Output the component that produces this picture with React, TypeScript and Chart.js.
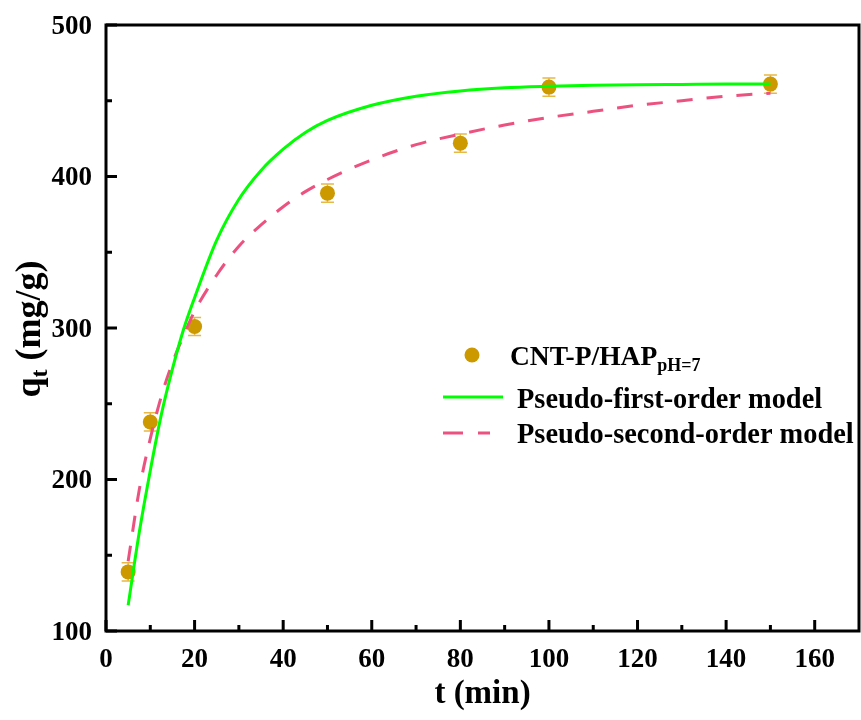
import React, { useEffect, useRef } from "react";
import { Chart, registerables } from "chart.js";
Chart.register(...registerables);

// Experimental data
const expT = [5, 10, 20, 50, 80, 100, 150];
const expQ = [139, 238, 301, 389, 422, 459, 461];
const expErr = [6, 6, 6, 6, 6, 6, 6];

// Model curves
const fitT = [5, 7.5, 10, 12.5, 15, 17.5, 20, 25, 30, 35, 40, 45, 50, 60, 70, 80, 90, 100, 110, 120, 130, 140, 150];
const pfoQ = [117, 165, 206, 243, 273, 299, 320, 358, 385, 404, 418, 429, 437, 447, 453, 456.5, 458.5, 459.5, 460.2, 460.6, 460.8, 461, 461];
const psoQ = [146, 193, 227, 255, 277, 295, 311, 335, 354, 368, 380, 390, 398, 411, 421, 428, 434, 439, 443, 447, 450, 453, 455];

const xMajor = [0, 20, 40, 60, 80, 100, 120, 140, 160];
const xMinor = [10, 30, 50, 70, 90, 110, 130, 150];
const yMajor = [100, 200, 300, 400, 500];
const yMinor = [150, 250, 350, 450];

const legendLabels = ["CNT-P/HAP", "pH=7", "Pseudo-first-order model", "Pseudo-second-order model"];
const yTitleMain = "q";
const yTitleSub = "t";
const yTitleRest = " (mg/g)";
const xTitle = "t (min)";

const FONT = "'Liberation Serif', 'Times New Roman', serif";
const GOLD = "rgb(204,153,0)";
const GOLD_LIGHT = "rgb(232,184,70)";
const GREEN = "#00ff00";
const PINK = "rgb(236,82,128)";

const customPlugin = {
  id: "custom",
  beforeDatasetsDraw(chart: any) {
    const ctx = chart.ctx;
    const xs = chart.scales.x;
    const ys = chart.scales.y;
    ctx.save();
    ctx.strokeStyle = GOLD_LIGHT;
    ctx.lineWidth = 1.5;
    expT.forEach((t, i) => {
      const px = xs.getPixelForValue(t);
      const top = ys.getPixelForValue(expQ[i] + expErr[i]);
      const bot = ys.getPixelForValue(expQ[i] - expErr[i]);
      ctx.beginPath();
      ctx.moveTo(px, top);
      ctx.lineTo(px, bot);
      ctx.moveTo(px - 6.5, top);
      ctx.lineTo(px + 6.5, top);
      ctx.moveTo(px - 6.5, bot);
      ctx.lineTo(px + 6.5, bot);
      ctx.stroke();
    });
    ctx.restore();
  },
  afterDraw(chart: any) {
    const ctx = chart.ctx;
    const { left, right, top, bottom } = chart.chartArea;
    const xs = chart.scales.x;
    const ys = chart.scales.y;
    ctx.save();
    // frame
    ctx.strokeStyle = "#000";
    ctx.lineWidth = 3;
    ctx.strokeRect(left, top, right - left, bottom - top);
    // inward ticks
    ctx.beginPath();
    xMajor.forEach((v) => {
      const p = xs.getPixelForValue(v);
      ctx.moveTo(p, bottom);
      ctx.lineTo(p, bottom - 11);
    });
    xMinor.forEach((v) => {
      const p = xs.getPixelForValue(v);
      ctx.moveTo(p, bottom);
      ctx.lineTo(p, bottom - 6);
    });
    yMajor.forEach((v) => {
      const p = ys.getPixelForValue(v);
      ctx.moveTo(left, p);
      ctx.lineTo(left + 11, p);
    });
    yMinor.forEach((v) => {
      const p = ys.getPixelForValue(v);
      ctx.moveTo(left, p);
      ctx.lineTo(left + 6, p);
    });
    ctx.stroke();

    // y title
    ctx.save();
    ctx.translate(40, 329);
    ctx.rotate(-Math.PI / 2);
    ctx.fillStyle = "#000";
    ctx.textBaseline = "alphabetic";
    ctx.font = `bold 36px ${FONT}`;
    const w1 = ctx.measureText(yTitleMain).width;
    ctx.font = `bold 24px ${FONT}`;
    const w2 = ctx.measureText(yTitleSub).width;
    ctx.font = `bold 36px ${FONT}`;
    const w3 = ctx.measureText(yTitleRest).width;
    const total = w1 + w2 + w3;
    const x0 = -total / 2;
    ctx.font = `bold 36px ${FONT}`;
    ctx.fillText(yTitleMain, x0, 0);
    ctx.font = `bold 24px ${FONT}`;
    ctx.fillText(yTitleSub, x0 + w1, 7);
    ctx.font = `bold 36px ${FONT}`;
    ctx.fillText(yTitleRest, x0 + w1 + w2, 0);
    ctx.restore();

    // legend
    ctx.fillStyle = GOLD;
    ctx.beginPath();
    ctx.arc(472, 355, 7.5, 0, Math.PI * 2);
    ctx.fill();
    ctx.fillStyle = "#000";
    ctx.textBaseline = "alphabetic";
    ctx.font = `bold 27.5px ${FONT}`;
    ctx.fillText(legendLabels[0], 510, 365);
    const wl = ctx.measureText(legendLabels[0]).width;
    ctx.font = `bold 18px ${FONT}`;
    ctx.fillText(legendLabels[1], 510 + wl, 371);
    ctx.font = `bold 28.4px ${FONT}`;
    ctx.fillText(legendLabels[2], 517, 408);
    ctx.fillText(legendLabels[3], 517, 443);

    ctx.lineWidth = 3;
    ctx.strokeStyle = GREEN;
    ctx.beginPath();
    ctx.moveTo(443, 397);
    ctx.lineTo(503, 397);
    ctx.stroke();
    ctx.strokeStyle = PINK;
    ctx.setLineDash([20, 15]);
    ctx.beginPath();
    ctx.moveTo(443, 433);
    ctx.lineTo(490, 433);
    ctx.stroke();
    ctx.setLineDash([]);
    ctx.restore();
  },
};

export default function App() {
  const ref = useRef<HTMLCanvasElement>(null);
  useEffect(() => {
    document.body.style.margin = "0";
    const canvas = ref.current!;
    const chart = new Chart(canvas, {
      type: "scatter",
      data: {
        datasets: [
          {
            label: "CNT-P/HAP",
            data: expT.map((t, i) => ({ x: t, y: expQ[i] })),
            pointRadius: 7.5,
            pointBackgroundColor: GOLD,
            pointBorderColor: GOLD,
            pointBorderWidth: 0,
            showLine: false,
            order: 3,
          },
          {
            label: "Pseudo-first-order model",
            data: fitT.map((t, i) => ({ x: t, y: pfoQ[i] })),
            showLine: true,
            borderColor: GREEN,
            borderWidth: 3,
            pointRadius: 0,
            cubicInterpolationMode: "monotone",
            order: 1,
          } as any,
          {
            label: "Pseudo-second-order model",
            data: fitT.map((t, i) => ({ x: t, y: psoQ[i] })),
            showLine: true,
            borderColor: PINK,
            borderWidth: 3,
            borderDash: [16, 14],
            pointRadius: 0,
            cubicInterpolationMode: "monotone",
            order: 2,
          } as any,
        ],
      },
      options: {
        animation: false,
        responsive: false,
        layout: { autoPadding: false, padding: { top: 25, right: 2, left: 0, bottom: 0 } },
        plugins: { legend: { display: false }, tooltip: { enabled: false } },
        scales: {
          x: {
            type: "linear",
            min: 0,
            max: 170,
            grid: { display: false, drawTicks: false },
            border: { display: false },
            afterBuildTicks: (s: any) => {
              s.ticks = xMajor.map((v) => ({ value: v }));
            },
            afterFit: (s: any) => {
              s.height = 89;
              s.paddingRight = 0;
              s.paddingLeft = 0;
            },
            ticks: {
              color: "#000",
              padding: 13,
              maxRotation: 0,
              font: { family: FONT, size: 27, weight: "bold" },
            },
            title: {
              display: true,
              text: xTitle,
              color: "#000",
              padding: { top: 0, bottom: 6 },
              font: { family: FONT, size: 33, weight: "bold" },
            },
          },
          y: {
            type: "linear",
            min: 100,
            max: 500,
            grid: { display: false, drawTicks: false },
            border: { display: false },
            afterBuildTicks: (s: any) => {
              s.ticks = yMajor.map((v) => ({ value: v }));
            },
            afterFit: (s: any) => {
              s.width = 106;
              s.paddingTop = 0;
              s.paddingBottom = 0;
            },
            ticks: {
              color: "#000",
              padding: 14,
              labelOffset: 2,
              font: { family: FONT, size: 27, weight: "bold" },
            },
          },
        },
      },
      plugins: [customPlugin],
    });
    return () => chart.destroy();
  }, []);
  return (
    <div style={{ width: 861, height: 720 }}>
      <canvas ref={ref} width={861} height={720} style={{ display: "block" }} />
    </div>
  );
}
